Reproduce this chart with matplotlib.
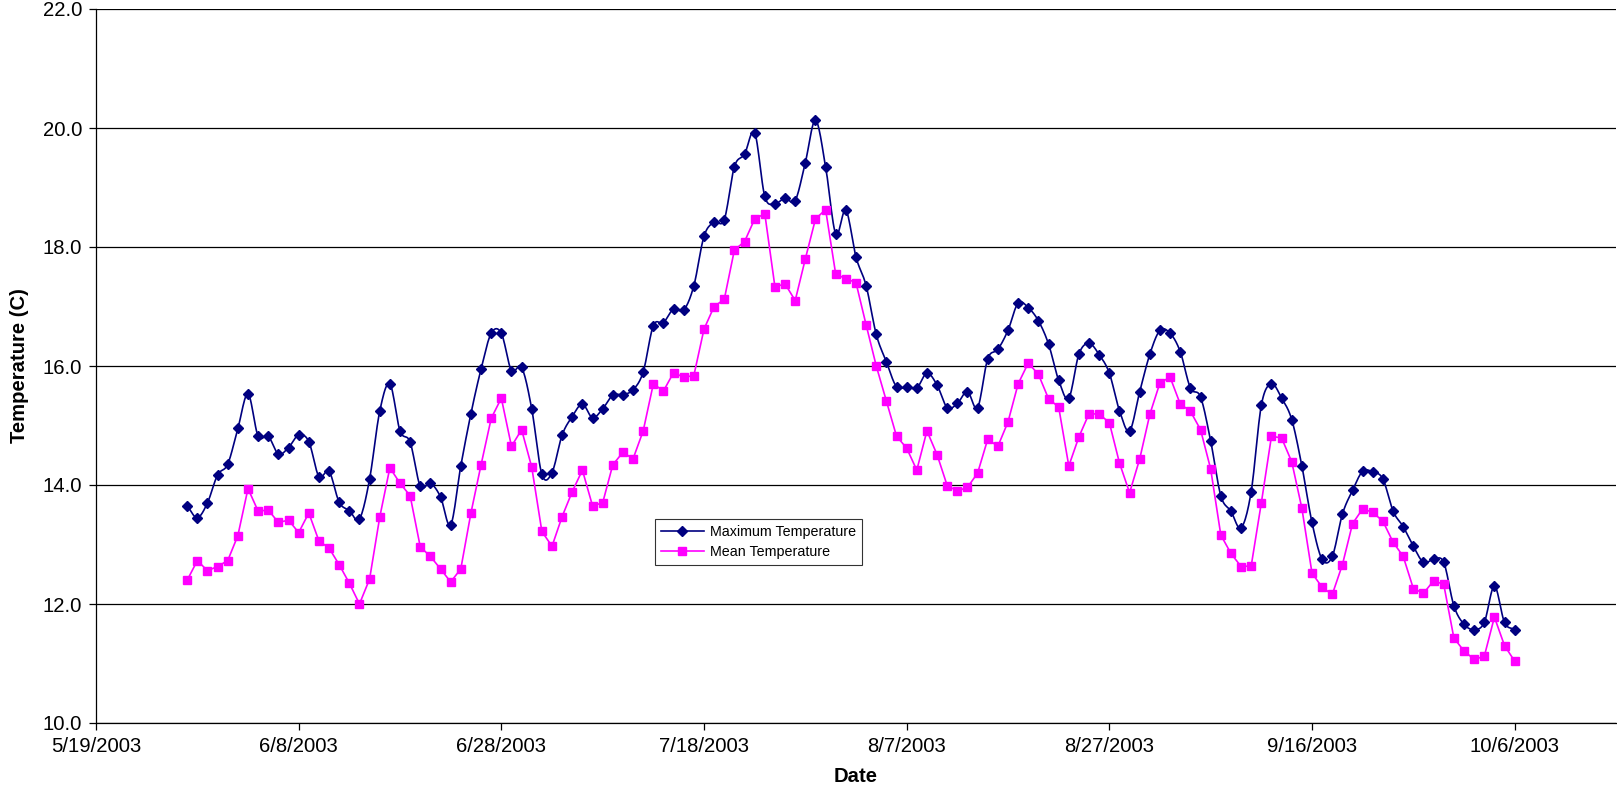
import numpy as np
import pandas as pd
import matplotlib
matplotlib.use("Agg")
import matplotlib.pyplot as plt
import matplotlib.dates as mdates

start_date = "2003-05-28"
max_temp = [13.65, 13.45, 13.7, 14.17, 14.35, 14.95, 15.53, 14.82, 14.82, 14.52,
            14.63, 14.84, 14.73, 14.14, 14.23, 13.71, 13.57, 13.43, 14.1, 15.24,
            15.7, 14.91, 14.72, 13.98, 14.03, 13.8, 13.33, 14.32, 15.2, 15.95,
            16.55, 16.55, 15.92, 15.98, 15.28, 14.18, 14.21, 14.84, 15.15, 15.36,
            15.13, 15.28, 15.51, 15.52, 15.6, 15.9, 16.68, 16.73, 16.96, 16.94,
            17.35, 18.18, 18.42, 18.46, 19.35, 19.56, 19.92, 18.85, 18.73, 18.82,
            18.78, 19.42, 20.13, 19.35, 18.22, 18.62, 17.83, 17.35, 16.53, 16.07,
            15.65, 15.65, 15.63, 15.88, 15.68, 15.3, 15.37, 15.57, 15.3, 16.12,
            16.28, 16.6, 17.06, 16.98, 16.76, 16.37, 15.76, 15.46, 16.2, 16.38,
            16.19, 15.88, 15.25, 14.91, 15.57, 16.2, 16.6, 16.55, 16.24, 15.63,
            15.48, 14.74, 13.82, 13.56, 13.28, 13.89, 15.34, 15.7, 15.46, 15.1,
            14.32, 13.37, 12.75, 12.8, 13.51, 13.91, 14.23, 14.22, 14.1, 13.56,
            13.3, 12.97, 12.7, 12.75, 12.7, 11.97, 11.66, 11.57, 11.69, 12.3,
            11.69, 11.57]
mean_temp = [12.4, 12.73, 12.56, 12.63, 12.73, 13.15, 13.94, 13.56, 13.58, 13.37,
             13.41, 13.2, 13.53, 13.06, 12.94, 12.66, 12.35, 12.0, 12.42, 13.46,
             14.29, 14.03, 13.82, 12.96, 12.8, 12.59, 12.37, 12.59, 13.53, 14.34,
             15.12, 15.46, 14.65, 14.93, 14.3, 13.22, 12.97, 13.47, 13.89, 14.25,
             13.65, 13.7, 14.34, 14.55, 14.44, 14.91, 15.7, 15.58, 15.89, 15.81,
             15.84, 16.62, 17.0, 17.12, 17.95, 18.09, 18.47, 18.56, 17.33, 17.38,
             17.1, 17.8, 18.47, 18.63, 17.54, 17.47, 17.4, 16.69, 16.0, 15.41,
             14.82, 14.62, 14.25, 14.91, 14.51, 13.99, 13.9, 13.96, 14.2, 14.77,
             14.65, 15.06, 15.7, 16.05, 15.86, 15.45, 15.31, 14.32, 14.81, 15.2,
             15.19, 15.05, 14.37, 13.87, 14.44, 15.19, 15.72, 15.81, 15.36, 15.24,
             14.93, 14.27, 13.16, 12.85, 12.63, 12.64, 13.7, 14.82, 14.79, 14.39,
             13.61, 12.52, 12.28, 12.16, 12.66, 13.35, 13.6, 13.54, 13.39, 13.04,
             12.8, 12.26, 12.18, 12.39, 12.33, 11.43, 11.21, 11.07, 11.12, 11.78,
             11.3, 11.04]
tick_dates = ["2003-05-19", "2003-06-08", "2003-06-28", "2003-07-18",
              "2003-08-07", "2003-08-27", "2003-09-16", "2003-10-06"]
tick_labels = ["5/19/2003", "6/8/2003", "6/28/2003", "7/18/2003",
               "8/7/2003", "8/27/2003", "9/16/2003", "10/6/2003"]
x_max_date = "2003-10-16"

dates = pd.date_range(start_date, periods=len(max_temp), freq="D")
xn = mdates.date2num(dates.to_pydatetime())


def catmull_rom(x, y, n=12):
    x = np.asarray(x, float)
    y = np.asarray(y, float)
    px = np.concatenate([[2 * x[0] - x[1]], x, [2 * x[-1] - x[-2]]])
    py = np.concatenate([[2 * y[0] - y[1]], y, [2 * y[-1] - y[-2]]])
    xs, ys = [], []
    t = np.linspace(0, 1, n, endpoint=False)
    for i in range(1, len(px) - 2):
        for arr, out in ((px, xs), (py, ys)):
            p0, p1, p2, p3 = arr[i - 1], arr[i], arr[i + 1], arr[i + 2]
            out.append(0.5 * ((2 * p1) + (-p0 + p2) * t
                              + (2 * p0 - 5 * p1 + 4 * p2 - p3) * t ** 2
                              + (-p0 + 3 * p1 - 3 * p2 + p3) * t ** 3))
    xs.append([x[-1]])
    ys.append([y[-1]])
    return np.concatenate(xs), np.concatenate(ys)


W, H = 1617, 802
fig = plt.figure(figsize=(W / 100, H / 100), dpi=100)
L, R, B, T = 96, 1616, 723, 9
ax = fig.add_axes([L / W, 1 - B / H, (R - L) / W, (B - T) / H])

navy = "#000080"
mag = "#FF00FF"
fam = "Liberation Sans"

sx, sy = catmull_rom(xn, max_temp)
ax.plot(sx, sy, color=navy, lw=1.2, zorder=3, clip_on=False)
ax.plot(xn, max_temp, ls="none", marker="D", ms=4.6, color=navy, zorder=4)
ax.plot(xn, mean_temp, color=mag, lw=1.2, marker="s", ms=5.8, zorder=3)

h1, = ax.plot([], [], color=navy, lw=1.2, marker="D", ms=4.6, label="Maximum Temperature")
h2, = ax.plot([], [], color=mag, lw=1.2, marker="s", ms=5.8, label="Mean Temperature")

t_nums = mdates.date2num(pd.to_datetime(tick_dates).to_pydatetime())
ax.set_xlim(t_nums[0], mdates.date2num(pd.Timestamp(x_max_date).to_pydatetime()))
ax.set_xticks(t_nums)
ax.set_xticklabels(tick_labels, fontsize=14.6, family=fam)
ax.set_ylim(10, 22)
yt = np.arange(10, 22.01, 2)
ax.set_yticks(yt)
ax.set_yticklabels([f"{v:.1f}" for v in yt], fontsize=14.6, family=fam)
ax.yaxis.grid(True, color="#000000", lw=0.9)
ax.set_axisbelow(True)
for s in ["top", "right"]:
    ax.spines[s].set_visible(False)
for s in ["left", "bottom"]:
    ax.spines[s].set_color("#000000")
    ax.spines[s].set_linewidth(0.9)
ax.tick_params(axis="both", direction="out", length=5, width=0.9, color="#000000", pad=5)

ax.set_xlabel("Date", fontsize=14.6, fontweight="bold", family=fam, labelpad=8)
ax.set_ylabel("Temperature (C)", fontsize=14.6, fontweight="bold", family=fam, labelpad=10)

leg = ax.legend(handles=[h1, h2], loc="upper left", bbox_to_anchor=((655 - L) / (R - L), (B - 519) / (B - T)),
                prop={"family": fam, "size": 10.3}, frameon=True,
                fancybox=False, edgecolor="#000000", handlelength=3.0,
                borderpad=0.4, labelspacing=0.45, handletextpad=0.45,
                borderaxespad=0)
leg.get_frame().set_linewidth(0.8)

fig.savefig("out.png", dpi=100)
